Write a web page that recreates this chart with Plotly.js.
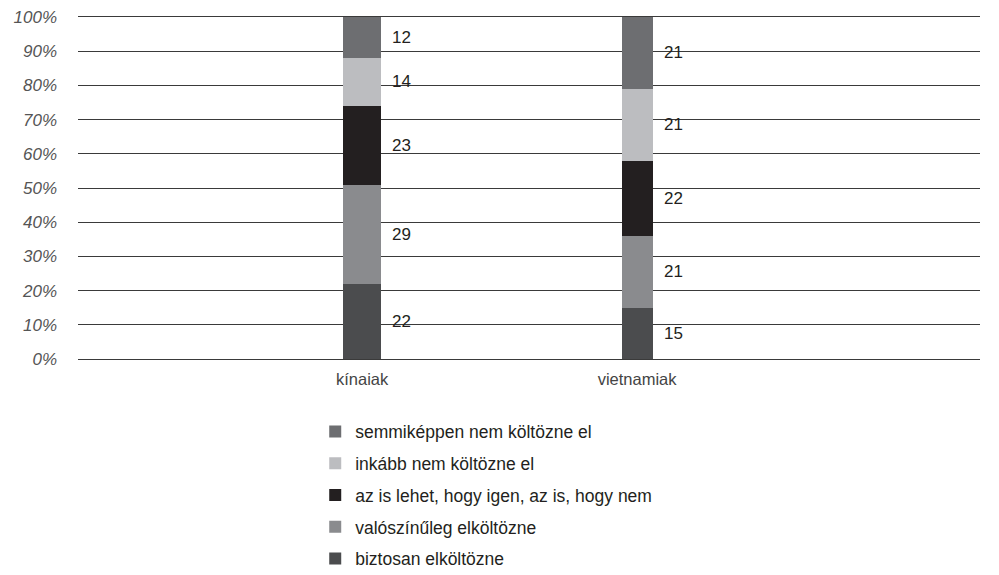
<!DOCTYPE html>
<html>
<head>
<meta charset="utf-8">
<script src="https://cdn.plot.ly/plotly-3.0.1.min.js"></script>
<style>html,body{margin:0;padding:0;background:#fff;}#chart{width:999px;height:575px;}</style>
</head>
<body>
<div id="chart"></div>
<script>
const categories = ['kínaiak', 'vietnamiak'];
const seriesNames = [
  'biztosan elköltözne',
  'valószínűleg elköltözne',
  'az is lehet, hogy igen, az is, hogy nem',
  'inkább nem költözne el',
  'semmiképpen nem költözne el'
];
const biztosan = [22, 15];
const valoszinuleg = [29, 21];
const azIs = [23, 22];
const inkabbNem = [14, 21];
const semmikeppen = [12, 21];
const colors = ['#4b4c4e', '#8a8b8e', '#231f20', '#bcbdc0', '#6d6e71'];
const barWidths = [0.138, 0.113];
const tickVals = [0, 10, 20, 30, 40, 50, 60, 70, 80, 90, 100];
const tickText = ['0%', '10%', '20%', '30%', '40%', '50%', '60%', '70%', '80%', '90%', '100%'];

const seriesValues = [biztosan, valoszinuleg, azIs, inkabbNem, semmikeppen];
const pxPerUnit = 275;
const FONT = 'Liberation Sans, Arial, sans-serif';

const traces = seriesValues.map((vals, i) => ({
  type: 'bar',
  name: seriesNames[i],
  x: categories,
  y: vals,
  width: barWidths,
  marker: {color: colors[i], line: {width: 0}},
  legendgroup: 'g' + i,
  legendrank: 1000 + seriesValues.length - i,
  hoverinfo: 'skip'
}));

const annotations = [];
categories.forEach((cat, c) => {
  let cum = 0;
  seriesValues.forEach((vals) => {
    const v = vals[c];
    annotations.push({
      x: cat, y: cum + v / 2, xref: 'x', yref: 'y',
      text: String(v), showarrow: false, xanchor: 'left', yanchor: 'middle',
      xshift: barWidths[c] * pxPerUnit / 2 + 9,
      font: {family: FONT, size: 17, color: '#231f20'}
    });
    cum += v;
  });
});

const layout = {
  width: 999, height: 575,
  margin: {l: 78, r: 19, t: 17, b: 216, autoexpand: false},
  paper_bgcolor: '#ffffff', plot_bgcolor: '#ffffff',
  barmode: 'stack',
  showlegend: true,
  legend: {
    x: 0.263, y: -0.16, xanchor: 'left', yanchor: 'top',
    orientation: 'v', traceorder: 'grouped', tracegroupgap: 6,
    font: {family: FONT, size: 17.5, color: '#231f20'},
    bgcolor: 'rgba(0,0,0,0)'
  },
  xaxis: {
    type: 'category', range: [-1.033, 2.247],
    showgrid: false, zeroline: false,
    showline: true, mirror: true, linecolor: '#3a3a3a', linewidth: 1,
    ticks: '', ticklabelstandoff: 5,
    tickfont: {family: FONT, size: 16.5, color: '#444'},
    fixedrange: true
  },
  yaxis: {
    range: [0, 100], tickvals: tickVals, ticktext: tickText,
    showgrid: true, gridcolor: '#3a3a3a', gridwidth: 1,
    zeroline: false, showline: false, ticks: '',
    ticklabelstandoff: 20,
    tickfont: {family: FONT, size: 17, color: '#555', style: 'italic'},
    fixedrange: true
  },
  annotations: annotations,
  font: {family: FONT}
};

Plotly.newPlot('chart', traces, layout, {displayModeBar: false, staticPlot: true});
</script>
</body>
</html>
